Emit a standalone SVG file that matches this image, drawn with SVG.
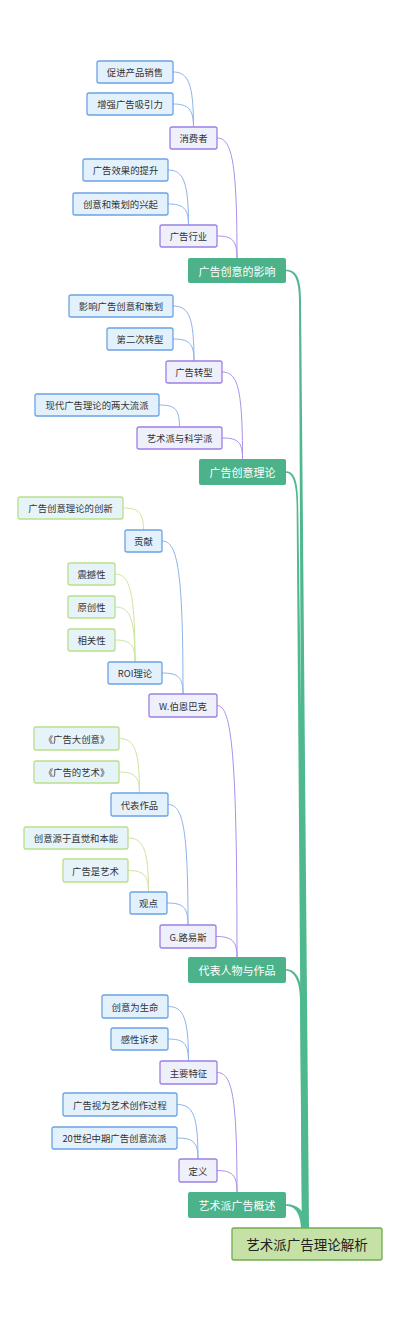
<svg xmlns="http://www.w3.org/2000/svg" width="400" height="1321" viewBox="0 0 400 1321">
<style>
text{font-family:"Noto Sans CJK SC","Noto Sans",sans-serif;text-anchor:middle;dominant-baseline:central}
.n2 rect{fill:#eef0fc;stroke:#9d7fe3;stroke-width:1.3}
.n3 rect{fill:#e3f1fc;stroke:#6ba3e5;stroke-width:1.3}
.n4 rect{fill:#e6f4fa;stroke:#b8df8a;stroke-width:1.3}
.n2 text,.n3 text,.n4 text{font-size:9.4px;fill:#333}
.n1 rect{fill:#4cb28a}
.n1 text{font-size:11px;fill:#fff}
.root rect{fill:#c5e1a5;stroke:#72ad52;stroke-width:1.3}
.root text{font-size:13.5px;fill:#222}
.c1{fill:#4fb88e}
.c2{fill:none;stroke:#ab90ec;stroke-width:1}
.c3{fill:none;stroke:#8db4ea;stroke-width:1}
.c4{fill:none;stroke:#cde69e;stroke-width:1}
</style>
<rect width="400" height="1321" fill="#fff"/>
<g id="connectors">
<path class="c1" d="M286 269.8 C297 269.8 301 279 301 300 L309 1228 L303 1228 L299 300 C299 281 295 271.2 286 271.2 Z"/>
<path class="c1" d="M286 471.2 C295 471.2 298 482 298.2 505 L308 1228 L302 1228 L296.6 505 C296.4 484 293 472.8 286 472.8 Z"/>
<path class="c1" d="M286 969.2 C296 969.2 302 979 302.2 1000 L308 1228 L302 1228 L300 1000 C300 981 294 970.8 286 970.8 Z"/>
<path class="c1" d="M286 1204.2 C298 1204.2 307 1212 307.5 1228 L301 1228 C300.5 1214 295 1205.8 286 1205.8 Z"/>
<path class="c2" d="M217 138 C232 138 237 162 237 258"/>
<path class="c2" d="M217 236 C232 236 237 240 237 258"/>
<path class="c2" d="M222 372 C238 372 242.5 389 242.5 459"/>
<path class="c2" d="M222 438 C238 438 242.5 442 242.5 459"/>
<path class="c2" d="M217 705.5 C232 705.5 237 756 237 957"/>
<path class="c2" d="M216 936.5 C232 936.5 237 941 237 957"/>
<path class="c2" d="M217 1072.5 C232 1072.5 237 1096 237 1192"/>
<path class="c2" d="M217 1170.5 C232 1170.5 237 1175 237 1192"/>
<path class="c3" d="M173 72 C188 72 193.5 83 193.5 127"/>
<path class="c3" d="M173 104 C188 104 193.5 109 193.5 127"/>
<path class="c3" d="M168 170 C183 170 188.5 181 188.5 225"/>
<path class="c3" d="M168 204 C183 204 188.5 208 188.5 225"/>
<path class="c3" d="M173 306 C189 306 194 317 194 361"/>
<path class="c3" d="M173 339 C189 339 194 343 194 361"/>
<path class="c3" d="M159 405 C175 405 179.5 409 179.5 427"/>
<path class="c3" d="M162 541 C178 541 183 572 183 694"/>
<path class="c3" d="M162 673 C178 673 183 677 183 694"/>
<path class="c3" d="M168 804.5 C183 804.5 188 828 188 925"/>
<path class="c3" d="M167 903 C183 903 188 907 188 925"/>
<path class="c3" d="M168 1006.5 C183 1006.5 188.5 1017 188.5 1061"/>
<path class="c3" d="M168 1039 C183 1039 188.5 1043 188.5 1061"/>
<path class="c3" d="M177 1104.5 C193 1104.5 198 1115 198 1159"/>
<path class="c3" d="M177 1138 C193 1138 198 1142 198 1159"/>
<path class="c4" d="M123 508 C138 508 143.5 512 143.5 530"/>
<path class="c4" d="M115 574 C130 574 135 592 135 662"/>
<path class="c4" d="M115 607 C130 607 135 618 135 662"/>
<path class="c4" d="M115 640 C130 640 135 644 135 662"/>
<path class="c4" d="M119 738.5 C134 738.5 139.5 749 139.5 793"/>
<path class="c4" d="M119 772 C134 772 139.5 776 139.5 793"/>
<path class="c4" d="M128 838 C143 838 148.5 849 148.5 892"/>
<path class="c4" d="M128 870.5 C143 870.5 148.5 875 148.5 892"/>
</g>
<g id="root" class="root"><rect x="232" y="1228" width="150" height="32" rx="2"/><text x="307" y="1244">艺术派广告理论解析</text></g>
<g id="n-a1" class="n1"><rect x="188" y="258" width="98" height="25" rx="2"/><text x="237" y="270.5">广告创意的影响</text></g>
<g id="n-a2" class="n1"><rect x="199" y="459" width="87" height="26" rx="2"/><text x="242.5" y="472">广告创意理论</text></g>
<g id="n-a3" class="n1"><rect x="188" y="957" width="98" height="26" rx="2"/><text x="237" y="970">代表人物与作品</text></g>
<g id="n-a4" class="n1"><rect x="188" y="1192" width="98" height="26" rx="2"/><text x="237" y="1205">艺术派广告概述</text></g>
<g id="n-consumer" class="n2"><rect x="170" y="127" width="47" height="22" rx="2"/><text x="193.5" y="138">消费者</text></g>
<g id="n-industry" class="n2"><rect x="160" y="225" width="57" height="22" rx="2"/><text x="188.5" y="236">广告行业</text></g>
<g id="n-transform" class="n2"><rect x="166" y="361" width="56" height="22" rx="2"/><text x="194" y="372">广告转型</text></g>
<g id="n-schools" class="n2"><rect x="137" y="427" width="85" height="22" rx="2"/><text x="179.5" y="438">艺术派与科学派</text></g>
<g id="n-bernbach" class="n2"><rect x="149" y="694" width="68" height="23" rx="2"/><text x="183" y="705.5">W.伯恩巴克</text></g>
<g id="n-lois" class="n2"><rect x="160" y="925" width="56" height="23" rx="2"/><text x="188" y="936.5">G.路易斯</text></g>
<g id="n-features" class="n2"><rect x="160" y="1061" width="57" height="23" rx="2"/><text x="188.5" y="1072.5">主要特征</text></g>
<g id="n-def" class="n2"><rect x="179" y="1159" width="38" height="23" rx="2"/><text x="198" y="1170.5">定义</text></g>
<g id="n-sales" class="n3"><rect x="97" y="61" width="76" height="22" rx="2"/><text x="135" y="72">促进产品销售</text></g>
<g id="n-attract" class="n3"><rect x="87" y="93" width="86" height="22" rx="2"/><text x="130" y="104">增强广告吸引力</text></g>
<g id="n-effect" class="n3"><rect x="83" y="159" width="85" height="22" rx="2"/><text x="125.5" y="170">广告效果的提升</text></g>
<g id="n-rise" class="n3"><rect x="73" y="193" width="95" height="22" rx="2"/><text x="120.5" y="204">创意和策划的兴起</text></g>
<g id="n-influence" class="n3"><rect x="69" y="295" width="104" height="22" rx="2"/><text x="121" y="306">影响广告创意和策划</text></g>
<g id="n-second" class="n3"><rect x="107" y="328" width="66" height="22" rx="2"/><text x="140" y="339">第二次转型</text></g>
<g id="n-modern" class="n3"><rect x="35" y="394" width="124" height="22" rx="2"/><text x="97" y="405">现代广告理论的两大流派</text></g>
<g id="n-contrib" class="n3"><rect x="125" y="530" width="37" height="22" rx="2"/><text x="143.5" y="541">贡献</text></g>
<g id="n-roi" class="n3"><rect x="108" y="662" width="54" height="22" rx="2"/><text x="135" y="673">ROI理论</text></g>
<g id="n-works" class="n3"><rect x="111" y="793" width="57" height="23" rx="2"/><text x="139.5" y="804.5">代表作品</text></g>
<g id="n-view" class="n3"><rect x="130" y="892" width="37" height="22" rx="2"/><text x="148.5" y="903">观点</text></g>
<g id="n-life" class="n3"><rect x="102" y="995" width="66" height="23" rx="2"/><text x="135" y="1006.5">创意为生命</text></g>
<g id="n-emotion" class="n3"><rect x="111" y="1028" width="57" height="22" rx="2"/><text x="139.5" y="1039">感性诉求</text></g>
<g id="n-art" class="n3"><rect x="63" y="1093" width="114" height="23" rx="2"/><text x="120" y="1104.5">广告视为艺术创作过程</text></g>
<g id="n-20c" class="n3"><rect x="52" y="1127" width="125" height="22" rx="2"/><text x="114.5" y="1138">20世纪中期广告创意流派</text></g>
<g id="n-innov" class="n4"><rect x="18" y="497" width="105" height="22" rx="2"/><text x="70.5" y="508">广告创意理论的创新</text></g>
<g id="n-shock" class="n4"><rect x="68" y="563" width="47" height="22" rx="2"/><text x="91.5" y="574">震撼性</text></g>
<g id="n-orig" class="n4"><rect x="68" y="596" width="47" height="22" rx="2"/><text x="91.5" y="607">原创性</text></g>
<g id="n-rel" class="n4"><rect x="68" y="629" width="47" height="22" rx="2"/><text x="91.5" y="640">相关性</text></g>
<g id="n-bigidea" class="n4"><rect x="34" y="727" width="85" height="23" rx="2"/><text x="76.5" y="738.5">《广告大创意》</text></g>
<g id="n-artofad" class="n4"><rect x="34" y="761" width="85" height="22" rx="2"/><text x="76.5" y="772">《广告的艺术》</text></g>
<g id="n-intuition" class="n4"><rect x="24" y="827" width="104" height="22" rx="2"/><text x="76" y="838">创意源于直觉和本能</text></g>
<g id="n-isart" class="n4"><rect x="63" y="859" width="65" height="23" rx="2"/><text x="95.5" y="870.5">广告是艺术</text></g>
</svg>
